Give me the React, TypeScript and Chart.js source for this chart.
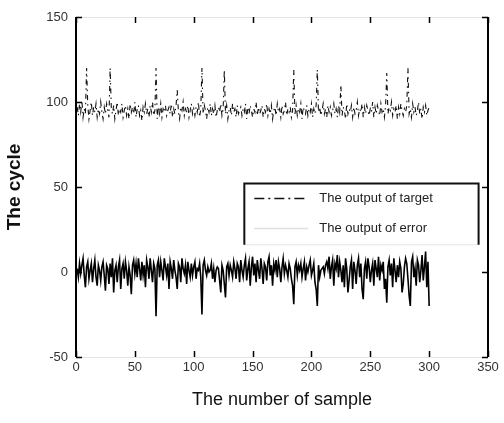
import React, { useEffect, useRef } from "react";
import { Chart, registerables } from "chart.js";

Chart.register(...registerables);

const xTicks = [0, 50, 100, 150, 200, 250, 300, 350];
const yTicks = [-50, 0, 50, 100, 150];
const xTitle = "The number of sample";
const yTitle = "The cycle";
const legendLabels = ["The output of target", "The output of error"];

const targetValues = [
  97, 92, 99, 94, 101, 91, 96, 93, 120, 98, 90, 95, 100, 92, 97, 94, 99, 91, 96, 93,
  100, 94, 90, 97, 93, 99, 95, 91, 120, 96, 93, 98, 90, 95, 100, 92, 96, 94, 99, 91,
  95, 98, 92, 96, 90, 99, 94, 97, 93, 100, 91, 96, 98, 92, 95, 89, 97, 94, 99, 93,
  96, 91, 98, 94, 100, 92, 95, 120, 90, 97, 93, 99, 91, 96, 94, 98, 92, 95, 97, 93,
  99, 91, 96, 93, 98, 107, 94, 90, 97, 95, 100, 92, 96, 94, 98, 91, 95, 99, 93, 96,
  92, 97, 94, 100, 91, 96, 120, 93, 98, 95, 90, 97, 94, 99, 92, 96, 93, 98, 91, 95,
  97, 94, 99, 92, 96, 119, 93, 98, 90, 95, 97, 92, 99, 94, 96, 91, 98, 93, 95, 97,
  92, 96, 94, 99, 90, 97, 93, 98, 95, 91, 96, 94, 100, 92, 97, 93, 95, 98, 91, 96,
  94, 99, 92, 96, 93, 98, 90, 95, 97, 92, 99, 94, 96, 91, 98, 93, 95, 100, 92, 96,
  94, 97, 91, 95, 119, 93, 98, 92, 96, 94, 99, 90, 97, 95, 93, 98, 92, 96, 94, 99,
  91, 96, 93, 98, 119, 94, 97, 92, 95, 99, 93, 96, 91, 98, 94, 97, 92, 95, 99, 93,
  96, 91, 98, 94, 110, 92, 97, 95, 90, 99, 93, 96, 94, 98, 91, 97, 93, 95, 100, 92,
  96, 94, 99, 91, 97, 93, 98, 95, 92, 96, 94, 100, 91, 97, 93, 98, 95, 92, 99, 94,
  96, 91, 98, 117, 93, 97, 95, 100, 92, 96, 94, 98, 90, 97, 93, 99, 95, 92, 96, 94,
  98, 120, 93, 96, 91, 99, 94, 97, 92, 95, 100, 93, 96, 90, 97, 94, 98, 92, 95, 97,
];

const errorValues = [
  2, -3, 5, -1, 4, 8, -2, -9, 3, 6, -4, 1, 5, -6, 2, 7, -3, -8, 4, 1,
  -5, 3, 6, -2, -11, 4, 2, -7, 5, -3, 8, -12, 1, 4, -6, 3, 7, -10, 2, 5,
  -4, 6, 1, -8, 3, -2, -13, 4, 7, -1, 5, -3, 8, 2, -5, 6, -2, 4, -9, 7,
  3, -4, 8, 1, -6, 5, 2, -26, 4, 7, -3, 6, 1, -5, 8, 3, -2, 5, -10, 6,
  2, -4, 7, 1, -3, -10, 5, 3, -6, 8, 2, -1, 4, -7, 6, 1, -3, 5, -2, 3,
  6, -4, 2, 1, 5, -3, -25, 4, 7, 1, -2, 3, 0, 1, 5, -4, 2, -6, 1, 3,
  2, -5, -12, 4, 1, -7, -15, 3, 5, -2, 4, 1, -3, 6, 2, -4, 5, 3, -6, 7,
  1, -3, 4, 8, -5, 2, 6, -8, 3, 9, -2, 5, -6, 7, 1, -4, 8, 2, -7, 5,
  3, -5, 6, 9, -2, 4, -8, 5, 1, 7, -3, 6, 2, -6, 3, 8, -1, 4, 1, -3,
  5, 2, -4, -8, -19, 3, 6, -2, 4, 1, 5, -3, 2, 6, -5, 3, 0, 4, 7, -2,
  1, 5, -6, -10, -20, 4, -3, 1, 2, 3, -1, 4, 6, 2, 9, -4, 3, 7, -8, 5,
  2, 10, -3, 6, 1, -6, 4, -9, 8, 2, -12, -5, 3, 7, -10, 6, 1, -7, 4, 8,
  -3, 5, -10, -16, 2, 6, -4, 8, 3, -6, 1, 5, -8, 7, 2, -3, 9, -5, 4, 1,
  6, -10, -4, -18, 3, 7, -2, 5, -9, 8, 1, -6, 4, -3, 6, 2, -12, -7, 3, 8,
  5, -4, -14, -20, 6, 9, -3, 2, -8, 7, 4, -6, 1, 10, -5, 3, 12, -9, 6, -20,
];

const FONT = "'Liberation Sans', Arial, sans-serif";

const boxPlugin = {
  id: "matlabBox",
  afterDatasetsDraw(chart: any) {
    const { ctx, chartArea: a, scales } = chart;
    const xs = scales.x;
    const ys = scales.y;
    ctx.save();
    ctx.strokeStyle = "#e4e4e4";
    ctx.lineWidth = 1;
    ctx.beginPath();
    ctx.moveTo(a.left, a.top + 0.5);
    ctx.lineTo(a.right, a.top + 0.5);
    ctx.moveTo(a.left, a.bottom + 0.5);
    ctx.lineTo(a.right, a.bottom + 0.5);
    ctx.stroke();
    ctx.strokeStyle = "#000";
    ctx.lineWidth = 2;
    ctx.beginPath();
    ctx.moveTo(a.left, a.top);
    ctx.lineTo(a.left, a.bottom);
    ctx.moveTo(a.right, a.top);
    ctx.lineTo(a.right, a.bottom);
    ctx.stroke();
    ctx.lineWidth = 1.5;
    ctx.beginPath();
    xTicks.forEach((v) => {
      const px = Math.round(xs.getPixelForValue(v)) + 0.5;
      ctx.moveTo(px, a.bottom);
      ctx.lineTo(px, a.bottom - 6);
      ctx.moveTo(px, a.top);
      ctx.lineTo(px, a.top + 6);
    });
    yTicks.forEach((v) => {
      const py = Math.round(ys.getPixelForValue(v)) + 0.5;
      ctx.moveTo(a.left, py);
      ctx.lineTo(a.left + 6, py);
      ctx.moveTo(a.right, py);
      ctx.lineTo(a.right - 6, py);
    });
    ctx.stroke();

    const lx = xs.getPixelForValue(143);
    const rx = xs.getPixelForValue(342);
    const ty = ys.getPixelForValue(52);
    const by = ys.getPixelForValue(16);
    ctx.fillStyle = "#fff";
    ctx.fillRect(lx, ty, rx - lx, by - ty);
    ctx.strokeStyle = "#e4e4e4";
    ctx.lineWidth = 1;
    ctx.beginPath();
    ctx.moveTo(lx, by);
    ctx.lineTo(rx, by);
    ctx.stroke();
    ctx.strokeStyle = "#111";
    ctx.lineWidth = 2;
    ctx.beginPath();
    ctx.moveTo(lx, by);
    ctx.lineTo(lx, ty);
    ctx.lineTo(rx, ty);
    ctx.lineTo(rx, by);
    ctx.stroke();

    const sx0 = lx + 10;
    const sx1 = lx + 64;
    const tx = lx + 75;
    const row1 = ty + 15;
    const row2 = ty + 45;
    ctx.lineWidth = 1.5;
    ctx.setLineDash([10, 4, 2, 4]);
    ctx.beginPath();
    ctx.moveTo(sx0, row1);
    ctx.lineTo(sx1, row1);
    ctx.stroke();
    ctx.setLineDash([]);
    ctx.strokeStyle = "#e0e0e0";
    ctx.beginPath();
    ctx.moveTo(sx0, row2);
    ctx.lineTo(sx1, row2);
    ctx.stroke();
    ctx.fillStyle = "#222";
    ctx.font = `13px ${FONT}`;
    ctx.textBaseline = "middle";
    ctx.textAlign = "left";
    ctx.fillText(legendLabels[0], tx, row1);
    ctx.fillText(legendLabels[1], tx, row2);
    ctx.restore();
  },
};

export default function App() {
  const ref = useRef<HTMLCanvasElement | null>(null);

  useEffect(() => {
    if (!ref.current) return;
    const pts = (arr: number[]) => arr.map((v, i) => ({ x: i + 1, y: v }));
    const chart = new Chart(ref.current, {
      type: "line",
      data: {
        datasets: [
          {
            label: legendLabels[0],
            data: pts(targetValues),
            borderColor: "#111",
            borderWidth: 1.1,
            borderDash: [5, 4, 1.5, 4],
            pointRadius: 0,
            tension: 0,
            fill: false,
          },
          {
            label: legendLabels[1],
            data: pts(errorValues),
            borderColor: "#000",
            borderWidth: 1.6,
            pointRadius: 0,
            tension: 0,
            fill: false,
          },
        ],
      },
      options: {
        responsive: false,
        animation: false,
        layout: { padding: { top: 17, right: 16, bottom: 10, left: 0 } },
        plugins: { legend: { display: false }, tooltip: { enabled: false } },
        scales: {
          x: {
            type: "linear",
            min: 0,
            max: 350,
            afterFit: (s: any) => {
              s.height = 56;
            },
            afterBuildTicks: (s: any) => {
              s.ticks = xTicks.map((v) => ({ value: v }));
            },
            grid: { display: false, drawTicks: false },
            border: { display: false },
            ticks: {
              padding: 3,
              color: "#333",
              font: { family: FONT, size: 13 },
              maxRotation: 0,
            },
            title: {
              display: true,
              text: xTitle,
              color: "#111",
              font: { family: FONT, size: 18 },
              padding: { top: 2, bottom: 2 },
            },
          },
          y: {
            type: "linear",
            min: -50,
            max: 150,
            afterFit: (s: any) => {
              s.width = 76;
            },
            afterBuildTicks: (s: any) => {
              s.ticks = yTicks.map((v) => ({ value: v }));
            },
            grid: { display: false, drawTicks: false },
            border: { display: false },
            ticks: {
              padding: 8,
              color: "#333",
              font: { family: FONT, size: 13 },
            },
            title: {
              display: true,
              text: yTitle,
              color: "#111",
              font: { family: FONT, size: 19, weight: "bold" },
              padding: { top: 3, bottom: 3 },
            },
          },
        },
      },
      plugins: [boxPlugin],
    });
    return () => chart.destroy();
  }, []);

  return (
    <div style={{ position: "absolute", left: 0, top: 0, width: 504, height: 423, background: "#fff" }}>
      <canvas ref={ref} width={504} height={423} style={{ display: "block", width: 504, height: 423 }} />
    </div>
  );
}
